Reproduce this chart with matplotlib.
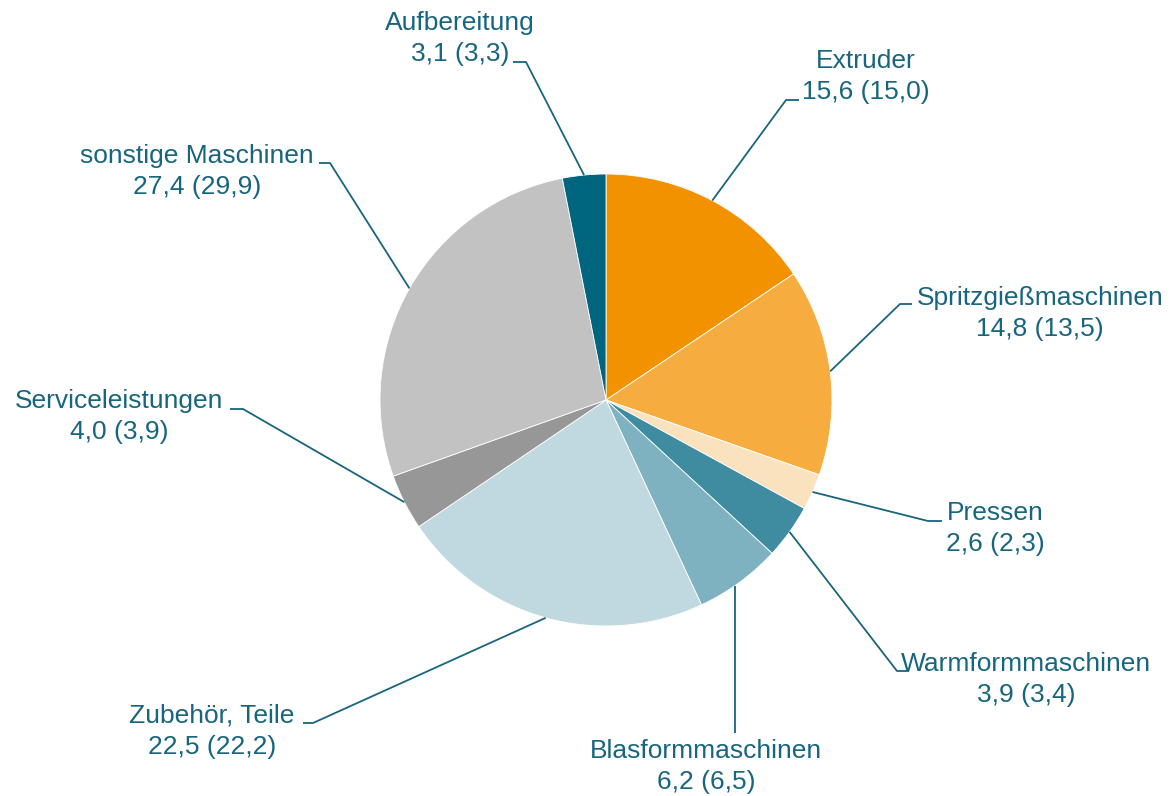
import matplotlib
matplotlib.use("Agg")
import matplotlib.pyplot as plt
import numpy as np

# Anteile in % (Vorjahr in Klammern)
categories = ["Extruder", "Spritzgießmaschinen", "Pressen", "Warmformmaschinen",
              "Blasformmaschinen", "Zubehör, Teile", "Serviceleistungen",
              "sonstige Maschinen", "Aufbereitung"]
values = [15.6, 14.8, 2.6, 3.9, 6.2, 22.5, 4.0, 27.4, 3.1]
values_prev = [15.0, 13.5, 2.3, 3.4, 6.5, 22.2, 3.9, 29.9, 3.3]

colors = ["#F39200", "#F6AC3F", "#FBE2BF", "#3F8CA0", "#7FB2C1",
          "#C0D9E0", "#979797", "#C2C2C2", "#00657F"]
text_col = "#17657F"

W, H = 1172, 796
cx, cy, r = 606, 400, 226

def fy(y):
    # pixel y (von oben) -> Datenkoordinate
    return H - y

# Label-Layout: Textmitte x, Mitte 1. Zeile y, Leader-Segment (x_text, x_knick, y)
layout = {
    "Extruder":            (866, 60, 799, 786, 100),
    "Spritzgießmaschinen": (1040, 297, 912, 900, 304),
    "Pressen":             (995, 512, 942, 928, 521),
    "Warmformmaschinen":   (1026, 663, 909, 897, 671),
    "Blasformmaschinen":   (706, 750, 735, 735, 733),
    "Zubehör, Teile":      (212, 715, 303, 313, 723),
    "Serviceleistungen":   (119, 400, 230, 243, 409),
    "sonstige Maschinen":  (197, 155, 319, 330, 163),
    "Aufbereitung":        (460, 22, 513, 526, 62),
}

plt.rcParams['font.family'] = ['Liberation Sans', 'DejaVu Sans']

fig = plt.figure(figsize=(W / 100, H / 100), dpi=100)
ax = fig.add_axes([0, 0, 1, 1])

wedges, _ = ax.pie(values, center=(cx, fy(cy)), radius=r, startangle=90,
                   counterclock=False, colors=colors,
                   wedgeprops=dict(edgecolor="white", linewidth=0.6))

ax.set_xlim(0, W)
ax.set_ylim(0, H)
ax.set_aspect("equal")
ax.axis("off")

fmt = lambda v: f"{v:.1f}".replace(".", ",")

for w, name, v, vp in zip(wedges, categories, values, values_prev):
    tx, ty, x0, x1, ly = layout[name]
    ax.text(tx, fy(ty + 16.5), f"{name}\n{fmt(v)} ({fmt(vp)})", ha="center",
            va="center", fontsize=19, color=text_col, linespacing=1.38,
            transform=ax.transData)
    if name == "Blasformmaschinen":
        # senkrechte Linie bis zum Kreisrand
        px = x1
        py = fy(cy) - np.sqrt(r ** 2 - (px - cx) ** 2)
    else:
        mid = np.deg2rad((w.theta1 + w.theta2) / 2)
        px = cx + r * np.cos(mid)
        py = fy(cy) + r * np.sin(mid)
    ax.plot([x0, x1, px], [fy(ly), fy(ly), py], color=text_col, lw=1.3,
            solid_capstyle="butt")

fig.savefig("out.png", dpi=100)
